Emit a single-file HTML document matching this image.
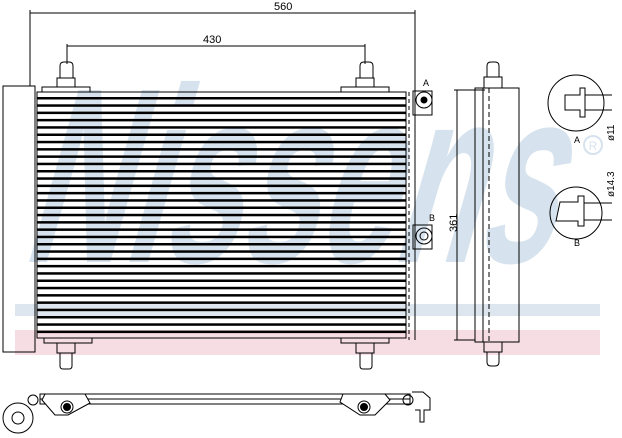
<!DOCTYPE html>
<html><head><style>body{margin:0;background:#fff}svg{display:block}</style></head><body>
<svg width="622" height="438" viewBox="0 0 622 438" xmlns="http://www.w3.org/2000/svg" font-family="Liberation Sans, sans-serif">
<!-- watermark -->
<g transform="skewX(-16)">
<text x="95" y="262" font-size="250" font-weight="bold" fill="#d6e3ee" textLength="530" lengthAdjust="spacingAndGlyphs">Nissens</text>
</g>
<circle cx="593" cy="145" r="9" fill="none" stroke="#d6e3ee" stroke-width="2"/>
<text x="593" y="150" font-size="12" fill="#d6e3ee" text-anchor="middle">R</text>
<rect x="15" y="304" width="585" height="12" fill="#dde6ee"/>
<rect x="15" y="330" width="585" height="25" fill="#f6dde3"/>
<g stroke="#000" fill="none" stroke-width="1">
<line x1="30" y1="13" x2="415" y2="13"/>
<line x1="30" y1="10" x2="30" y2="86"/>
<line x1="415" y1="10" x2="415" y2="340"/>
<line x1="67" y1="46" x2="365" y2="46"/>
<line x1="67" y1="44" x2="67" y2="64"/>
<line x1="365" y1="44" x2="365" y2="64"/>
<rect x="3" y="86" width="32" height="266"/>
<line x1="35" y1="90" x2="35" y2="352" stroke-dasharray="3,2"/>
<rect x="37" y="92" width="369" height="246"/>
<line x1="409" y1="92" x2="409" y2="340" stroke-dasharray="4,3"/>
<rect x="42" y="87" width="48" height="5"/>
<rect x="57" y="78" width="18" height="9"/>
<path d="M62 78 V66 Q62 62 66 62 H71 Q75 62 75 66 V78" transform="translate(-2,0)"/>
<rect x="341" y="87" width="48" height="5"/>
<rect x="356" y="78" width="18" height="9"/>
<path d="M360 78 V66 Q360 62 364 62 H369 Q373 62 373 66 V78"/>
<rect x="44" y="338" width="48" height="5"/>
<rect x="57" y="343" width="18" height="10"/>
<path d="M60 353 V366 Q60 369 63 369 H69 Q72 369 72 366 V353"/>
<rect x="341" y="338" width="48" height="5"/>
<rect x="356" y="343" width="18" height="10"/>
<path d="M360 353 V366 Q360 369 363 369 H369 Q372 369 372 366 V353"/>
<rect x="413" y="91" width="19" height="24"/>
<circle cx="424" cy="100" r="8"/><circle cx="424" cy="100" r="3" fill="#000"/>
<rect x="413" y="225" width="19" height="24"/>
<circle cx="424" cy="236" r="8"/><circle cx="424" cy="236" r="4"/>
<rect x="475" y="88" width="44" height="254"/>
<line x1="483" y1="88" x2="483" y2="342"/>
<line x1="489" y1="88" x2="489" y2="342" stroke-dasharray="5,3"/>
<rect x="484" y="77" width="18" height="11"/>
<path d="M487 77 V66 Q487 62 491 62 H495 Q499 62 499 66 V77"/>
<rect x="484" y="342" width="18" height="10"/>
<path d="M487 352 V362 Q487 366 491 366 H495 Q499 366 499 362 V352"/>
<line x1="457" y1="90" x2="457" y2="340"/>
<line x1="454" y1="90" x2="485" y2="90"/>
<line x1="454" y1="340" x2="475" y2="340"/>
<circle cx="576" cy="103" r="28"/>
<circle cx="576" cy="213" r="26"/>
<path d="M565 95 H580 V88 H585 V117 H580 V110 H565 Z" fill="#fff"/>
<line x1="585" y1="95" x2="612" y2="95"/><line x1="585" y1="110" x2="612" y2="110"/>
<path d="M560 202 H578 V196 H584 V226 H578 V221 H556 Z" fill="#fff"/>
<line x1="584" y1="203" x2="612" y2="203"/><line x1="584" y1="220" x2="612" y2="220"/>
<rect x="40" y="394" width="370" height="10"/>
<line x1="40" y1="399" x2="410" y2="399"/>
<circle cx="18" cy="418" r="15"/><circle cx="18" cy="418" r="6"/>
<circle cx="33" cy="400" r="5"/>
<path d="M45 394 L85 394 L90 403 L68 415 L55 415 L42 400 Z" fill="#fff"/>
<circle cx="67" cy="407" r="6"/><circle cx="67" cy="407" r="3.5" fill="#000"/>
<path d="M343 394 L385 394 L390 400 L375 415 L360 415 L340 402 Z" fill="#fff"/>
<circle cx="364" cy="407" r="6"/><circle cx="364" cy="407" r="3.5" fill="#000"/>
<circle cx="408" cy="400" r="5"/>
<path d="M412 392 H423 L430 398 V410 H424 V422 H420 V410 H415"/>
</g>
<g fill="#000">
<rect x="37" y="97" width="369" height="2.5"/><rect x="37" y="104.3" width="369" height="2.5"/><rect x="37" y="111.6" width="369" height="2.5"/><rect x="37" y="118.9" width="369" height="2.5"/><rect x="37" y="126.2" width="369" height="2.5"/><rect x="37" y="133.5" width="369" height="2.5"/><rect x="37" y="140.8" width="369" height="2.5"/><rect x="37" y="148.1" width="369" height="2.5"/><rect x="37" y="155.4" width="369" height="2.5"/><rect x="37" y="162.7" width="369" height="2.5"/><rect x="37" y="170" width="369" height="2.5"/><rect x="37" y="177.3" width="369" height="2.5"/><rect x="37" y="184.6" width="369" height="2.5"/><rect x="37" y="191.9" width="369" height="2.5"/><rect x="37" y="199.2" width="369" height="2.5"/><rect x="37" y="206.5" width="369" height="2.5"/><rect x="37" y="213.8" width="369" height="2.5"/><rect x="37" y="221.1" width="369" height="2.5"/><rect x="37" y="228.4" width="369" height="2.5"/><rect x="37" y="235.7" width="369" height="2.5"/><rect x="37" y="243" width="369" height="2.5"/><rect x="37" y="250.3" width="369" height="2.5"/><rect x="37" y="257.6" width="369" height="2.5"/><rect x="37" y="264.9" width="369" height="2.5"/><rect x="37" y="272.2" width="369" height="2.5"/><rect x="37" y="279.5" width="369" height="2.5"/><rect x="37" y="286.8" width="369" height="2.5"/><rect x="37" y="294.1" width="369" height="2.5"/><rect x="37" y="301.4" width="369" height="2.5"/><rect x="37" y="308.7" width="369" height="2.5"/><rect x="37" y="316" width="369" height="2.5"/><rect x="37" y="323.3" width="369" height="2.5"/><rect x="37" y="330.6" width="369" height="2.5"/>
</g>
<g font-size="11" fill="#000">
<text x="274" y="10">560</text>
<text x="203" y="43">430</text>
<text x="423" y="86" font-size="9">A</text>
<text x="429" y="221" font-size="9">B</text>
<text x="574" y="143" font-size="9">A</text>
<text x="574" y="246" font-size="9">B</text>
<text transform="translate(457,232) rotate(-90)">361</text>
<text transform="translate(614,141) rotate(-90)" font-size="10">ø11</text>
<text transform="translate(614,197) rotate(-90)" font-size="10">ø14.3</text>
</g>
</svg>
</body></html>
